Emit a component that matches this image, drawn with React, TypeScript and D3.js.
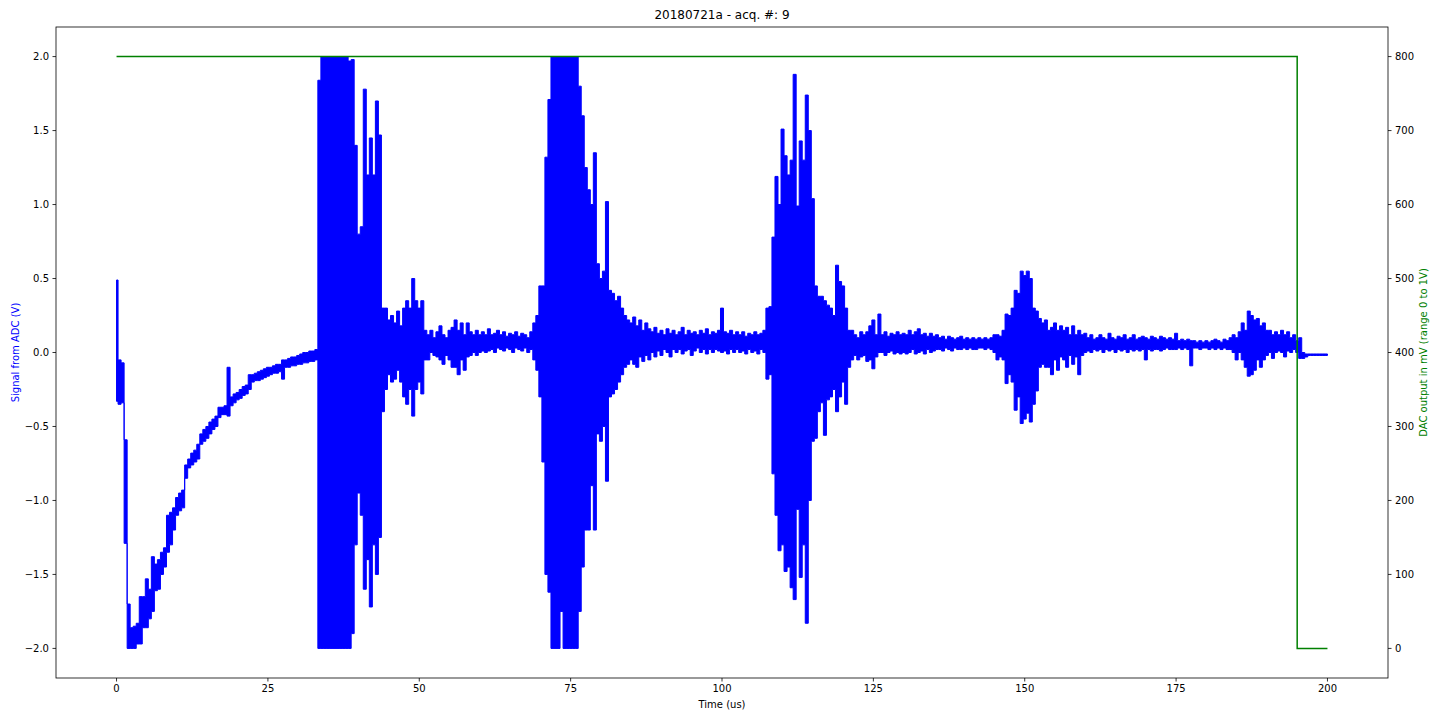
import React from 'react';
import * as d3 from 'd3';

// ---- Data ----
// ADC signal, sampled every 0.5 us: upper and lower extremes of the trace per sample.
const SAMPLE_STEP_US = 0.5;
const chunkStartUs = [0, 50, 100, 150];

const adcHigh0 = [
  0.49, -0.05, -0.07, -0.59, -1.7, -1.86, -1.85, -1.83, -1.65, -1.65,
  -1.53, -1.6, -1.38, -1.43, -1.4, -1.35, -1.32, -1.1, -1.08, -1.05,
  -0.98, -0.95, -0.93, -0.76, -0.72, -0.68, -0.66, -0.62, -0.55, -0.52,
  -0.5, -0.47, -0.45, -0.43, -0.37, -0.37, -0.36, -0.1, -0.3, -0.28,
  -0.27, -0.25, -0.23, -0.22, -0.15, -0.15, -0.14, -0.13, -0.12, -0.11,
  -0.1, -0.1, -0.09, -0.08, -0.08, -0.05, -0.05, -0.04, -0.03, -0.03,
  -0.02, -0.01, 0.0, 0.0, 0.01, 0.01, 0.02, 1.84, 2.0, 2.0,
  2.0, 2.0, 2.0, 2.0, 2.0, 2.0, 2.0, 1.97, 1.98, 1.4,
  0.8, 0.85, 1.78, 1.2, 1.45, 1.2, 1.7, 1.47, 0.3, 0.3,
  0.22, 0.25, 0.2, 0.28, 0.18, 0.3, 0.35, 0.3, 0.5, 0.35,
];
const adcLow0 = [
  -0.33, -0.35, -0.34, -1.29, -2.0, -2.0, -2.0, -1.97, -1.97, -1.86,
  -1.86, -1.8, -1.75, -1.61, -1.6, -1.5, -1.45, -1.35, -1.3, -1.2,
  -1.1, -1.07, -1.05, -0.85, -0.78, -0.76, -0.74, -0.72, -0.62, -0.6,
  -0.58, -0.55, -0.52, -0.5, -0.44, -0.42, -0.42, -0.43, -0.36, -0.34,
  -0.32, -0.31, -0.29, -0.28, -0.25, -0.2, -0.19, -0.19, -0.18, -0.17,
  -0.16, -0.15, -0.14, -0.14, -0.13, -0.18, -0.1, -0.1, -0.09, -0.09,
  -0.08, -0.08, -0.07, -0.07, -0.06, -0.06, -0.05, -2.0, -2.0, -2.0,
  -2.0, -2.0, -2.0, -2.0, -2.0, -2.0, -2.0, -2.0, -1.9, -1.3,
  -0.95, -1.1, -1.6, -1.4, -1.72, -1.3, -1.5, -1.25, -0.4, -0.25,
  -0.15, -0.2, -0.18, -0.12, -0.2, -0.3, -0.35, -0.25, -0.43, -0.25,
];

const adcHigh1 = [
  0.3, 0.35, 0.15, 0.12, 0.15, 0.1, 0.14, 0.18, 0.12, 0.1,
  0.15, 0.17, 0.22, 0.15, 0.2, 0.12, 0.2, 0.14, 0.12, 0.15,
  0.12, 0.14, 0.12, 0.16, 0.12, 0.13, 0.15, 0.12, 0.14, 0.11,
  0.13, 0.12, 0.14, 0.11, 0.13, 0.12, 0.1, 0.14, 0.2, 0.25,
  0.45, 0.45, 1.32, 1.71, 2.0, 2.0, 2.0, 2.0, 2.0, 2.0,
  2.0, 2.0, 2.0, 1.8, 1.6, 1.25, 1.1, 1.0, 1.35, 0.6,
  0.5, 0.55, 1.02, 0.42, 0.4, 0.35, 0.38, 0.3, 0.25, 0.22,
  0.2, 0.24, 0.18, 0.22, 0.15, 0.2, 0.16, 0.14, 0.17, 0.13,
  0.15, 0.12, 0.16, 0.13, 0.15, 0.12, 0.14, 0.17, 0.12, 0.15,
  0.13, 0.14, 0.12, 0.15, 0.13, 0.16, 0.12, 0.14, 0.13, 0.15,
];
const adcLow1 = [
  -0.2, -0.28, -0.05, -0.05, 0.0, -0.02, -0.03, -0.05, -0.08, -0.02,
  -0.05, -0.1, -0.1, -0.15, -0.05, -0.12, -0.03, -0.02, 0.0, -0.02,
  0.0, 0.01, 0.0, 0.01, 0.02, 0.0, 0.03, 0.02, 0.01, 0.03,
  0.02, 0.0, 0.03, 0.02, 0.01, 0.03, 0.0, 0.02, -0.05, -0.12,
  -0.3, -0.74, -1.5, -1.62, -2.0, -2.0, -2.0, -1.75, -2.0, -2.0,
  -2.0, -2.0, -2.0, -1.75, -1.45, -1.2, -1.2, -0.9, -1.2, -0.55,
  -0.6, -0.5, -0.87, -0.3, -0.28, -0.25, -0.2, -0.15, -0.1, -0.08,
  -0.05, -0.08, -0.1, -0.03, -0.06, -0.02, -0.05, 0.0, -0.03, 0.01,
  -0.02, 0.02, 0.0, -0.03, 0.02, 0.0, 0.02, -0.01, 0.01, 0.02,
  -0.02, 0.01, 0.03, 0.0, 0.02, -0.01, 0.02, 0.0, 0.02, 0.01,
];

const adcHigh2 = [
  0.3, 0.14, 0.13, 0.15, 0.12, 0.14, 0.12, 0.14, 0.11, 0.13,
  0.12, 0.14, 0.12, 0.13, 0.15, 0.3, 0.31, 0.78, 1.19, 1.0,
  1.51, 1.33, 1.2, 1.3, 1.88, 0.99, 1.43, 1.3, 1.74, 1.5,
  1.04, 0.45, 0.38, 0.38, 0.35, 0.32, 0.3, 0.25, 0.59, 0.48,
  0.45, 0.3, 0.15, 0.15, 0.12, 0.1, 0.14, 0.12, 0.14, 0.18,
  0.22, 0.12, 0.26, 0.12, 0.14, 0.11, 0.13, 0.12, 0.14, 0.12,
  0.13, 0.12, 0.15, 0.12, 0.14, 0.16, 0.12, 0.13, 0.11, 0.13,
  0.11, 0.12, 0.1, 0.11, 0.09, 0.11, 0.1, 0.09, 0.1, 0.11,
  0.09, 0.1, 0.09, 0.1, 0.09, 0.1, 0.09, 0.1, 0.09, 0.1,
  0.12, 0.12, 0.11, 0.15, 0.26, 0.25, 0.3, 0.42, 0.4, 0.55,
];
const adcLow2 = [
  0.0, 0.01, -0.01, 0.02, 0.0, 0.02, 0.0, 0.01, -0.01, 0.02,
  0.0, 0.01, -0.01, 0.02, 0.0, -0.18, -0.15, -0.82, -1.1, -1.34,
  -1.3, -1.48, -1.45, -1.59, -1.67, -1.06, -1.52, -1.3, -1.83, -1.0,
  -0.6, -0.58, -0.4, -0.34, -0.56, -0.32, -0.3, -0.25, -0.4, -0.3,
  -0.2, -0.35, -0.1, -0.05, -0.02, -0.05, -0.03, -0.02, -0.06, -0.05,
  -0.11, -0.03, 0.0, 0.0, -0.02, 0.0, 0.01, -0.01, 0.0, -0.01,
  0.0, -0.01, 0.0, 0.02, -0.01, 0.0, 0.01, -0.01, 0.02, 0.0,
  0.01, 0.02, 0.02, 0.01, 0.03, 0.02, 0.01, 0.03, 0.02, 0.02,
  0.03, 0.02, 0.03, 0.02, 0.02, 0.03, 0.03, 0.02, 0.03, 0.02,
  0.0, -0.05, -0.03, -0.05, -0.21, -0.15, -0.2, -0.39, -0.3, -0.48,
];

const adcHigh3 = [
  0.52, 0.55, 0.5, 0.3, 0.28, 0.23, 0.2, 0.22, 0.15, 0.17,
  0.2, 0.15, 0.18, 0.15, 0.17, 0.12, 0.18, 0.12, 0.15, 0.12,
  0.13, 0.1, 0.12, 0.09, 0.1, 0.12, 0.1, 0.09, 0.13, 0.1,
  0.09, 0.11, 0.1, 0.12, 0.09, 0.1, 0.12, 0.09, 0.1, 0.11,
  0.1, 0.09, 0.11, 0.1, 0.09, 0.11, 0.1, 0.09, 0.1, 0.09,
  0.13, 0.08, 0.09, 0.08, 0.09, 0.08, 0.08, 0.07, 0.08, 0.07,
  0.08, 0.07, 0.08, 0.09, 0.08, 0.07, 0.09, 0.08, 0.1, 0.12,
  0.1, 0.14, 0.2, 0.15, 0.28, 0.25, 0.22, 0.23, 0.18, 0.2,
  0.15, 0.15, 0.12, 0.14, 0.12, 0.15, 0.12, 0.14, 0.1, 0.12,
  0.08, 0.1, 0.0, -0.01, -0.01, -0.01, -0.01, -0.01, -0.01, -0.01,
  -0.01,
];
const adcLow3 = [
  -0.45, -0.41, -0.47, -0.35, -0.26, -0.1, -0.08, -0.1, -0.1, -0.15,
  -0.05, -0.12, -0.03, -0.05, -0.1, -0.02, -0.08, -0.03, -0.15, -0.02,
  0.0, 0.01, 0.0, 0.02, 0.01, 0.02, 0.0, 0.02, 0.01, 0.02,
  0.0, 0.02, 0.01, 0.02, 0.0, 0.02, 0.01, 0.02, 0.01, 0.02,
  -0.05, 0.02, 0.01, 0.02, 0.02, 0.01, 0.02, 0.03, 0.02, 0.02,
  0.02, 0.03, 0.02, 0.03, 0.02, -0.09, 0.03, 0.03, 0.02, 0.03,
  0.03, 0.02, 0.03, 0.02, 0.03, 0.02, 0.03, 0.02, 0.02, 0.0,
  -0.05, 0.0, -0.05, -0.1, -0.16, -0.15, -0.12, -0.05, -0.1, -0.05,
  -0.02, 0.0, -0.04, 0.0, 0.01, 0.0, -0.03, 0.01, 0.0, 0.02,
  0.0, -0.04, -0.04, -0.03, -0.02, -0.02, -0.02, -0.02, -0.02, -0.02,
  -0.02,
];

const adcHighChunks = [adcHigh0, adcHigh1, adcHigh2, adcHigh3];
const adcLowChunks = [adcLow0, adcLow1, adcLow2, adcLow3];

// DAC output (mV): steps at the listed times
const dacTimeUs = [0, 195, 200];
const dacMilliVolts = [800, 0, 0];

// Axes
const xTicks = [0, 25, 50, 75, 100, 125, 150, 175, 200];
const leftTicks = [-2.0, -1.5, -1.0, -0.5, 0.0, 0.5, 1.0, 1.5, 2.0];
const rightTicks = [0, 100, 200, 300, 400, 500, 600, 700, 800];
const xDomain = [-10, 210];
const leftDomain = [-2.2, 2.2];
const rightDomain = [-40, 840];

const TITLE = '20180721a - acq. #: 9';
const X_LABEL = 'Time (us)';
const LEFT_LABEL = 'Signal from ADC (V)';
const RIGHT_LABEL = 'DAC output in mV (range 0 to 1V)';

type Sample = { t: number; hi: number; lo: number };

const FONT = '"DejaVu Sans", sans-serif';
const minus = (s: string) => s.replace('-', '\u2212');

export default function App() {
  const W = 1440;
  const H = 720;
  const L = 56;
  const R = 1388;
  const T = 27;
  const B = 678;

  const x = d3.scaleLinear().domain(xDomain).range([L, R]);
  const yL = d3.scaleLinear().domain(leftDomain).range([B, T]);
  const yR = d3.scaleLinear().domain(rightDomain).range([B, T]);

  const samples: Sample[] = [];
  adcHighChunks.forEach((his, c) => {
    his.forEach((hi, i) => {
      samples.push({ t: chunkStartUs[c] + i * SAMPLE_STEP_US, hi, lo: adcLowChunks[c][i] });
    });
  });

  const adcArea = d3
    .area<Sample>()
    .x((d) => x(d.t))
    .y0((d) => yL(d.lo))
    .y1((d) => yL(d.hi))
    .curve(d3.curveStep);

  const dacPts: [number, number][] = dacTimeUs.map((t, i) => [t, dacMilliVolts[i]]);
  const dacLine = d3
    .line<[number, number]>()
    .x((d) => x(d[0]))
    .y((d) => yR(d[1]))
    .curve(d3.curveStepAfter);

  const fmt1 = d3.format('.1f');

  return (
    <svg
      width={W}
      height={H}
      style={{ position: 'absolute', left: 0, top: 0, background: '#fff' }}
      fontFamily={FONT}
    >
      <rect x={0} y={0} width={W} height={H} fill="#fff" />
      <defs>
        <clipPath id="plotClip">
          <rect x={L} y={T} width={R - L} height={B - T} />
        </clipPath>
      </defs>

      <g clipPath="url(#plotClip)">
        <path d={adcArea(samples) || ''} fill="#0000ff" stroke="#0000ff" strokeWidth={1.0} strokeLinejoin="round" />
        <path d={dacLine(dacPts) || ''} fill="none" stroke="#008000" strokeWidth={1.5} />
      </g>

      {/* frame */}
      <rect x={L} y={T} width={R - L} height={B - T} fill="none" stroke="#000" strokeWidth={0.8} />

      {/* x axis */}
      {xTicks.map((t) => (
        <g key={'x' + t}>
          <line x1={x(t)} x2={x(t)} y1={B} y2={B + 3.5} stroke="#000" strokeWidth={0.8} />
          <text x={x(t)} y={B + 14} fontSize={10} textAnchor="middle" fill="#000">
            {String(t)}
          </text>
        </g>
      ))}
      <text x={(L + R) / 2} y={B + 30} fontSize={10} textAnchor="middle" fill="#000">
        {X_LABEL}
      </text>

      {/* left axis */}
      {leftTicks.map((v) => (
        <g key={'l' + v}>
          <line x1={L - 3.5} x2={L} y1={yL(v)} y2={yL(v)} stroke="#000" strokeWidth={0.8} />
          <text x={L - 7} y={yL(v)} dy="0.36em" fontSize={10} textAnchor="end" fill="#000">
            {minus(fmt1(v))}
          </text>
        </g>
      ))}
      <text
        transform={`translate(18.5, ${(T + B) / 2}) rotate(-90)`}
        fontSize={10}
        textAnchor="middle"
        fill="#0000ff"
      >
        {LEFT_LABEL}
      </text>

      {/* right axis */}
      {rightTicks.map((v) => (
        <g key={'r' + v}>
          <line x1={R} x2={R + 3.5} y1={yR(v)} y2={yR(v)} stroke="#000" strokeWidth={0.8} />
          <text x={R + 7} y={yR(v)} dy="0.36em" fontSize={10} textAnchor="start" fill="#000">
            {String(v)}
          </text>
        </g>
      ))}
      <text
        transform={`translate(1426.5, ${(T + B) / 2}) rotate(-90)`}
        fontSize={10}
        textAnchor="middle"
        fill="#008000"
      >
        {RIGHT_LABEL}
      </text>

      {/* title */}
      <text x={(L + R) / 2} y={19} fontSize={12} textAnchor="middle" fill="#000">
        {TITLE}
      </text>
    </svg>
  );
}
